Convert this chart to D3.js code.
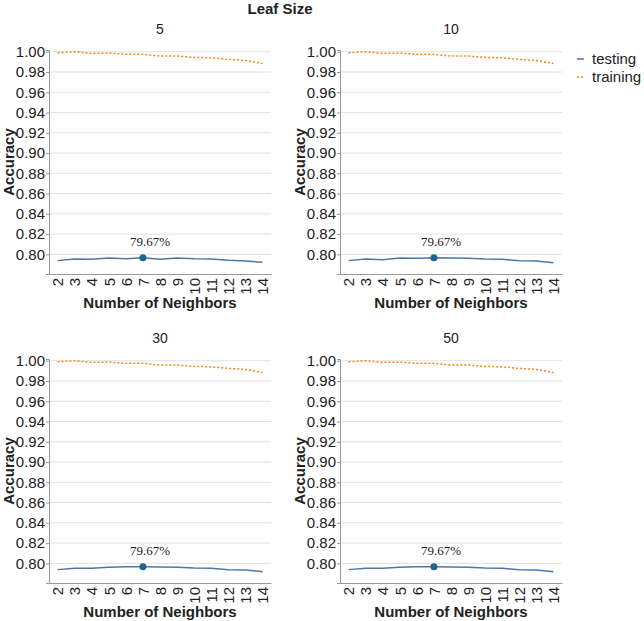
<!DOCTYPE html>
<html>
<head>
<meta charset="utf-8">
<script src="https://cdn.jsdelivr.net/npm/d3@7"></script>
<style>
  body { margin: 0; background: #fff; }
  text { font-family: "Liberation Sans", Arial, sans-serif; fill: #222; }
</style>
</head>
<body>
<svg id="chart" width="644" height="621"></svg>
<script>
// data
const neighbors = [2, 3, 4, 5, 6, 7, 8, 9, 10, 11, 12, 13, 14];
const leafSizes = [5, 10, 30, 50];
const testing5  = [0.7938, 0.7954, 0.7951, 0.7964, 0.7957, 0.7967, 0.7951, 0.7964, 0.7957, 0.7954, 0.7941, 0.7934, 0.7921];
const testing10 = [0.7938, 0.7954, 0.7947, 0.7964, 0.7961, 0.7967, 0.7964, 0.7961, 0.7954, 0.7951, 0.7938, 0.7934, 0.7918];
const testing30 = [0.7938, 0.7951, 0.7951, 0.7961, 0.7966, 0.7967, 0.7964, 0.7961, 0.7954, 0.7951, 0.7938, 0.7934, 0.7918];
const testing50 = [0.7938, 0.7951, 0.7951, 0.7961, 0.7966, 0.7967, 0.7964, 0.7961, 0.7954, 0.7951, 0.7938, 0.7934, 0.7918];
const training  = [0.9990, 1.0000, 0.9983, 0.9987, 0.9974, 0.9974, 0.9957, 0.9957, 0.9944, 0.9940, 0.9924, 0.9914, 0.9884];
const yTicks = [0.80, 0.82, 0.84, 0.86, 0.88, 0.90, 0.92, 0.94, 0.96, 0.98, 1.00];
const seriesNames = ["testing", "training"];

const testingByLeaf = { 5: testing5, 10: testing10, 30: testing30, 50: testing50 };
const colors = { testing: "#4c78a8", training: "#f58518" };

const svg = d3.select("#chart");

// layout of the 2x2 facet grid
const plotW = 222, plotH = 224;
const colX = [49, 340];
const rowY = [50, 359];

const x = d3.scalePoint().domain(neighbors).range([0, plotW]).padding(0.5);
const y = d3.scaleLinear().domain([0.7806, 1.0017]).range([plotH, 0]);

svg.append("text")
  .attr("x", 280).attr("y", 14)
  .attr("text-anchor", "middle")
  .attr("font-size", 15).attr("font-weight", "bold")
  .text("Leaf Size");

leafSizes.forEach((leaf, i) => {
  const g = svg.append("g")
    .attr("transform", `translate(${colX[i % 2]},${rowY[Math.floor(i / 2)]})`);

  // facet header
  g.append("text")
    .attr("x", plotW / 2).attr("y", -16)
    .attr("text-anchor", "middle")
    .attr("font-size", 14)
    .text(leaf);

  // grid
  g.append("g").selectAll("line")
    .data(yTicks)
    .join("line")
    .attr("x1", 0).attr("x2", plotW)
    .attr("y1", d => y(d)).attr("y2", d => y(d))
    .attr("stroke", "#e2e2e2");

  // y axis
  const yAxis = g.append("g")
    .call(d3.axisLeft(y).tickValues(yTicks).tickFormat(d3.format(".2f")).tickSize(3).tickPadding(1));
  yAxis.select(".domain").attr("stroke", "#999");
  yAxis.selectAll(".tick line").attr("stroke", "#999");
  yAxis.selectAll(".tick text")
    .attr("font-size", 15).attr("font-family", "Liberation Sans, Arial, sans-serif").attr("fill", "#222");

  // x axis
  const xAxis = g.append("g")
    .attr("transform", `translate(0,${plotH})`)
    .call(d3.axisBottom(x).tickSize(0).tickPadding(0).tickSizeOuter(0));
  xAxis.select(".domain").attr("stroke", "#999");
  xAxis.selectAll(".tick text")
    .attr("font-size", 15).attr("font-family", "Liberation Sans, Arial, sans-serif").attr("fill", "#222")
    .attr("text-anchor", "end")
    .attr("transform", "rotate(-90)")
    .attr("x", -4).attr("y", 0).attr("dy", "0.35em");

  // axis titles
  g.append("text")
    .attr("transform", `translate(-35,${plotH / 2}) rotate(-90)`)
    .attr("text-anchor", "middle")
    .attr("font-size", 15).attr("font-weight", "bold")
    .text("Accuracy");

  g.append("text")
    .attr("x", plotW / 2).attr("y", plotH + 33.5)
    .attr("text-anchor", "middle")
    .attr("font-size", 15).attr("font-weight", "bold")
    .text("Number of Neighbors");

  const testing = testingByLeaf[leaf];
  const line = d3.line().x((d, j) => x(neighbors[j])).y(d => y(d));

  g.append("path")
    .datum(training)
    .attr("d", line)
    .attr("fill", "none")
    .attr("stroke", colors.training)
    .attr("stroke-width", 1.5)
    .attr("stroke-dasharray", "2,2");

  g.append("path")
    .datum(testing)
    .attr("d", line)
    .attr("fill", "none")
    .attr("stroke", colors.testing)
    .attr("stroke-width", 1.5);

  // best testing point
  const best = d3.maxIndex(testing);
  const bx = x(neighbors[best]), by = y(testing[best]);
  g.append("circle")
    .attr("cx", bx).attr("cy", by).attr("r", 3.5)
    .attr("fill", "#1b6690");
  g.append("text")
    .attr("x", bx + 7).attr("y", by - 12)
    .attr("text-anchor", "middle")
    .attr("font-size", 13)
    .style("font-family", "'Liberation Serif', 'Times New Roman', serif")
    .text(d3.format(".2%")(testing[best]));
});

// legend
const legend = svg.append("g").attr("transform", "translate(577,59)");
seriesNames.forEach((name, i) => {
  const row = legend.append("g").attr("transform", `translate(0,${i * 18})`);
  row.append("line")
    .attr("x1", 0).attr("x2", 7)
    .attr("stroke", colors[name]).attr("stroke-width", 1.5)
    .attr("stroke-dasharray", name === "training" ? "2,2" : null);
  row.append("text")
    .attr("x", 15).attr("y", 0).attr("dy", "0.35em")
    .attr("font-size", 15)
    .text(name);
});
</script>
</body>
</html>
